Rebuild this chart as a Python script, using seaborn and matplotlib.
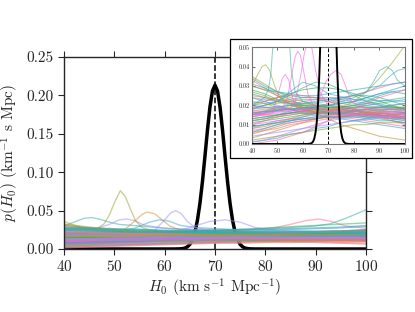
import matplotlib
matplotlib.use("Agg")
import matplotlib.pyplot as plt
from matplotlib.patches import Rectangle
from matplotlib.ticker import FormatStrFormatter
import seaborn as sns
import pandas as pd

# grid used by the smooth background posteriors
h0_grid = [40, 45, 50, 55, 60, 65, 70, 75, 80, 85, 90, 95, 100]

# combined posterior (black)
comb_h0 = [40, 60, 62, 63, 63.5, 64, 64.5, 65, 65.5, 66, 66.5, 67, 67.5, 68, 68.5, 69, 69.5, 70,
           70.5, 71, 71.5, 72, 72.5, 73, 73.5, 74, 74.5, 75, 75.5, 76, 76.5, 77, 78, 80, 100]
comb_p = [0.0, 0.0, 0.00002, 0.0002, 0.0005, 0.0012, 0.0028, 0.0060, 0.0118, 0.0217, 0.0370,
          0.0589, 0.0873, 0.1204, 0.1546, 0.1849, 0.2058, 0.2133, 0.2058, 0.1849, 0.1546, 0.1204,
          0.0873, 0.0589, 0.0370, 0.0217, 0.0118, 0.0060, 0.0028, 0.0012, 0.0005, 0.0002,
          0.00002, 0.0, 0.0]
true_h0 = 70

# individual event posteriors, main panel (values on h0_grid)
main_curves = [
    [0.012, 0.013, 0.014, 0.015, 0.016, 0.016, 0.017, 0.017, 0.018, 0.018, 0.018, 0.018, 0.017],
    [0.020, 0.019, 0.018, 0.018, 0.017, 0.017, 0.016, 0.016, 0.016, 0.015, 0.015, 0.014, 0.014],
    [0.008, 0.009, 0.010, 0.011, 0.012, 0.013, 0.013, 0.014, 0.014, 0.014, 0.015, 0.015, 0.015],
    [0.026, 0.025, 0.024, 0.022, 0.021, 0.020, 0.019, 0.018, 0.017, 0.016, 0.015, 0.014, 0.013],
    [0.005, 0.006, 0.008, 0.009, 0.011, 0.012, 0.013, 0.014, 0.015, 0.016, 0.017, 0.018, 0.019],
    [0.015, 0.016, 0.017, 0.018, 0.019, 0.020, 0.020, 0.021, 0.021, 0.022, 0.022, 0.022, 0.023],
    [0.010, 0.011, 0.012, 0.012, 0.013, 0.013, 0.013, 0.014, 0.014, 0.013, 0.013, 0.012, 0.012],
    [0.013, 0.014, 0.014, 0.015, 0.015, 0.016, 0.016, 0.016, 0.016, 0.016, 0.015, 0.015, 0.015],
    [0.030, 0.027, 0.024, 0.021, 0.018, 0.016, 0.014, 0.012, 0.011, 0.010, 0.009, 0.008, 0.007],
    [0.006, 0.007, 0.009, 0.010, 0.012, 0.013, 0.014, 0.015, 0.016, 0.017, 0.018, 0.019, 0.020],
    [0.018, 0.019, 0.019, 0.020, 0.020, 0.020, 0.021, 0.021, 0.021, 0.021, 0.022, 0.023, 0.025],
    [0.012, 0.012, 0.013, 0.013, 0.014, 0.014, 0.014, 0.015, 0.015, 0.015, 0.016, 0.016, 0.016],
    [0.022, 0.021, 0.020, 0.020, 0.019, 0.019, 0.018, 0.018, 0.018, 0.018, 0.019, 0.020, 0.021],
    [0.003, 0.004, 0.005, 0.006, 0.007, 0.008, 0.009, 0.010, 0.011, 0.012, 0.013, 0.014, 0.015],
    [0.016, 0.017, 0.018, 0.019, 0.019, 0.020, 0.020, 0.020, 0.020, 0.019, 0.019, 0.018, 0.018],
    [0.009, 0.010, 0.011, 0.012, 0.012, 0.013, 0.013, 0.014, 0.014, 0.014, 0.014, 0.014, 0.014],
    [0.017, 0.016, 0.016, 0.015, 0.015, 0.015, 0.015, 0.015, 0.016, 0.016, 0.017, 0.018, 0.019],
    [0.024, 0.023, 0.022, 0.021, 0.020, 0.019, 0.018, 0.018, 0.017, 0.017, 0.016, 0.016, 0.015],
    [0.004, 0.005, 0.006, 0.007, 0.008, 0.009, 0.009, 0.010, 0.010, 0.011, 0.011, 0.012, 0.012],
    [0.020, 0.021, 0.022, 0.022, 0.023, 0.023, 0.023, 0.022, 0.022, 0.021, 0.020, 0.019, 0.018],
    [0.014, 0.015, 0.016, 0.016, 0.017, 0.017, 0.018, 0.018, 0.019, 0.020, 0.021, 0.022, 0.024],
    [0.027, 0.026, 0.025, 0.025, 0.024, 0.024, 0.024, 0.025, 0.025, 0.026, 0.027, 0.028, 0.030],
    [0.006, 0.007, 0.007, 0.008, 0.009, 0.010, 0.011, 0.011, 0.012, 0.012, 0.013, 0.013, 0.014],
    [0.011, 0.012, 0.013, 0.014, 0.015, 0.015, 0.016, 0.016, 0.017, 0.017, 0.017, 0.017, 0.017],
    [0.008, 0.008, 0.009, 0.010, 0.011, 0.012, 0.013, 0.013, 0.014, 0.015, 0.016, 0.016, 0.017],
    [0.014, 0.014, 0.015, 0.015, 0.015, 0.016, 0.016, 0.016, 0.016, 0.016, 0.016, 0.016, 0.016],
    [0.032, 0.028, 0.025, 0.023, 0.021, 0.020, 0.019, 0.018, 0.017, 0.016, 0.015, 0.014, 0.013],
    [0.007, 0.008, 0.009, 0.010, 0.011, 0.011, 0.012, 0.012, 0.013, 0.013, 0.013, 0.013, 0.013],
    [0.010, 0.010, 0.011, 0.011, 0.012, 0.012, 0.012, 0.012, 0.012, 0.012, 0.012, 0.012, 0.011],
    [0.019, 0.018, 0.018, 0.017, 0.017, 0.017, 0.017, 0.017, 0.018, 0.018, 0.019, 0.020, 0.021],
    [0.023, 0.022, 0.021, 0.020, 0.019, 0.018, 0.017, 0.016, 0.015, 0.014, 0.013, 0.012, 0.011],
    [0.007, 0.008, 0.009, 0.010, 0.011, 0.012, 0.012, 0.013, 0.013, 0.013, 0.013, 0.013, 0.013],
    [0.021, 0.021, 0.020, 0.020, 0.019, 0.019, 0.019, 0.020, 0.020, 0.021, 0.022, 0.023, 0.024],
    [0.010, 0.011, 0.011, 0.012, 0.012, 0.013, 0.013, 0.013, 0.013, 0.012, 0.012, 0.011, 0.011],
    [0.013, 0.014, 0.015, 0.016, 0.016, 0.017, 0.017, 0.017, 0.017, 0.017, 0.017, 0.017, 0.016],
    [0.016, 0.016, 0.016, 0.017, 0.017, 0.017, 0.018, 0.018, 0.018, 0.019, 0.019, 0.020, 0.020],
    [0.028, 0.027, 0.026, 0.025, 0.023, 0.022, 0.021, 0.020, 0.019, 0.018, 0.018, 0.017, 0.017],
    [0.011, 0.012, 0.013, 0.013, 0.014, 0.015, 0.015, 0.016, 0.016, 0.017, 0.018, 0.019, 0.020],
    [0.018, 0.018, 0.017, 0.017, 0.016, 0.016, 0.016, 0.016, 0.016, 0.016, 0.016, 0.016, 0.016],
    [0.012, 0.012, 0.013, 0.013, 0.014, 0.014, 0.014, 0.015, 0.015, 0.015, 0.015, 0.015, 0.016],
    [0.002, 0.003, 0.004, 0.005, 0.006, 0.007, 0.008, 0.008, 0.009, 0.009, 0.010, 0.010, 0.010],
    [0.016, 0.017, 0.017, 0.018, 0.018, 0.018, 0.018, 0.018, 0.018, 0.018, 0.018, 0.018, 0.018],
    [0.009, 0.010, 0.010, 0.011, 0.011, 0.012, 0.012, 0.012, 0.012, 0.012, 0.012, 0.012, 0.012],
    [0.014, 0.014, 0.014, 0.014, 0.014, 0.015, 0.015, 0.015, 0.015, 0.016, 0.016, 0.016, 0.016],
    [0.025, 0.024, 0.023, 0.022, 0.022, 0.021, 0.021, 0.021, 0.021, 0.022, 0.022, 0.023, 0.024],
    [0.008, 0.009, 0.010, 0.011, 0.012, 0.013, 0.014, 0.014, 0.015, 0.015, 0.016, 0.016, 0.017],
    [0.013, 0.013, 0.014, 0.014, 0.015, 0.015, 0.015, 0.015, 0.015, 0.015, 0.015, 0.015, 0.015],
    [0.010, 0.011, 0.012, 0.012, 0.013, 0.013, 0.014, 0.014, 0.014, 0.014, 0.014, 0.014, 0.014],
]

# posteriors with a visible bump, main panel: (h0 values, p values, colour index)
main_bumps = [
    ([40, 42, 44, 45.5, 47, 49, 51, 53, 55, 60, 70, 80, 90, 100],
     [0.030, 0.035, 0.040, 0.041, 0.039, 0.035, 0.032, 0.031, 0.030, 0.027, 0.024, 0.022, 0.021, 0.020], 4),
    ([40, 46, 49, 51, 52.5, 54, 56, 60, 70, 80, 90, 100],
     [0.025, 0.026, 0.032, 0.038, 0.039, 0.037, 0.031, 0.027, 0.024, 0.022, 0.021, 0.020], 6),
    ([40, 42, 44, 46.5, 48, 49, 50, 51.2, 52.2, 53.2, 54.2, 55.5, 57, 60, 65, 70, 80, 90, 100],
     [0.036, 0.031, 0.027, 0.026, 0.033, 0.044, 0.060, 0.076, 0.068, 0.052, 0.037, 0.028, 0.025,
      0.022, 0.020, 0.019, 0.018, 0.017, 0.016], 2),
    ([40, 45, 50, 52, 54, 55.5, 56.5, 58, 59.5, 61, 63, 70, 80, 90, 100],
     [0.022, 0.021, 0.022, 0.025, 0.036, 0.045, 0.048, 0.046, 0.038, 0.030, 0.025, 0.022, 0.020, 0.019, 0.018], 1),
    ([40, 50, 54, 57, 59, 61, 63, 66, 75, 85, 100],
     [0.020, 0.022, 0.027, 0.035, 0.038, 0.036, 0.031, 0.028, 0.025, 0.024, 0.023], 5),
    ([40, 50, 55, 58, 60, 61.2, 62.2, 63.3, 64.5, 66, 68, 75, 85, 100],
     [0.018, 0.019, 0.020, 0.024, 0.038, 0.047, 0.050, 0.046, 0.036, 0.028, 0.026, 0.023, 0.021, 0.020], 6),
    ([40, 55, 63, 66, 69, 72, 75, 78, 82, 90, 100],
     [0.015, 0.018, 0.024, 0.030, 0.036, 0.038, 0.035, 0.028, 0.024, 0.022, 0.021], 6),
    ([40, 60, 75, 82, 85, 88, 90.6, 93, 96, 100],
     [0.016, 0.020, 0.024, 0.028, 0.032, 0.037, 0.039, 0.036, 0.030, 0.027], 0),
    ([40, 60, 80, 85, 90, 93, 96, 100],
     [0.020, 0.022, 0.026, 0.028, 0.030, 0.033, 0.040, 0.051], 4),
    ([40, 70, 85, 100],
     [0.018, 0.024, 0.029, 0.034], 3),
]

# inset panel posteriors (values on h0_grid)
inset_curves = [
    [0.010, 0.012, 0.014, 0.016, 0.017, 0.018, 0.018, 0.018, 0.017, 0.016, 0.015, 0.014, 0.013],
    [0.022, 0.021, 0.019, 0.018, 0.017, 0.016, 0.016, 0.015, 0.015, 0.014, 0.014, 0.013, 0.013],
    [0.005, 0.007, 0.009, 0.011, 0.012, 0.013, 0.014, 0.014, 0.015, 0.015, 0.016, 0.016, 0.016],
    [0.028, 0.026, 0.023, 0.021, 0.019, 0.018, 0.017, 0.016, 0.015, 0.014, 0.013, 0.012, 0.011],
    [0.015, 0.017, 0.019, 0.020, 0.020, 0.020, 0.019, 0.019, 0.020, 0.022, 0.025, 0.027, 0.026],
    [0.012, 0.013, 0.015, 0.017, 0.018, 0.019, 0.020, 0.021, 0.022, 0.024, 0.026, 0.028, 0.030],
    [0.008, 0.010, 0.012, 0.013, 0.014, 0.015, 0.016, 0.016, 0.016, 0.015, 0.014, 0.013, 0.012],
    [0.014, 0.015, 0.016, 0.016, 0.017, 0.017, 0.017, 0.016, 0.016, 0.015, 0.015, 0.014, 0.014],
    [0.033, 0.029, 0.025, 0.021, 0.018, 0.016, 0.015, 0.014, 0.013, 0.012, 0.011, 0.010, 0.009],
    [0.003, 0.005, 0.007, 0.009, 0.011, 0.013, 0.015, 0.016, 0.017, 0.018, 0.019, 0.020, 0.021],
    [0.019, 0.020, 0.021, 0.022, 0.023, 0.023, 0.022, 0.021, 0.020, 0.019, 0.018, 0.018, 0.017],
    [0.011, 0.012, 0.013, 0.014, 0.015, 0.016, 0.016, 0.017, 0.017, 0.017, 0.018, 0.018, 0.018],
    [0.026, 0.024, 0.022, 0.021, 0.021, 0.022, 0.023, 0.024, 0.025, 0.025, 0.024, 0.022, 0.020],
    [0.001, 0.002, 0.003, 0.005, 0.006, 0.008, 0.009, 0.011, 0.012, 0.013, 0.014, 0.015, 0.016],
    [0.018, 0.020, 0.022, 0.023, 0.024, 0.024, 0.023, 0.022, 0.021, 0.020, 0.019, 0.018, 0.017],
    [0.007, 0.008, 0.010, 0.011, 0.012, 0.013, 0.014, 0.014, 0.015, 0.015, 0.015, 0.015, 0.014],
    [0.016, 0.015, 0.015, 0.016, 0.017, 0.019, 0.021, 0.023, 0.025, 0.027, 0.029, 0.031, 0.032],
    [0.025, 0.024, 0.023, 0.022, 0.021, 0.020, 0.019, 0.018, 0.017, 0.016, 0.015, 0.014, 0.013],
    [0.002, 0.003, 0.004, 0.005, 0.006, 0.007, 0.008, 0.009, 0.010, 0.010, 0.011, 0.011, 0.011],
    [0.021, 0.022, 0.024, 0.026, 0.028, 0.029, 0.029, 0.028, 0.026, 0.024, 0.022, 0.020, 0.018],
    [0.013, 0.014, 0.015, 0.016, 0.017, 0.018, 0.019, 0.019, 0.020, 0.021, 0.022, 0.023, 0.024],
    [0.030, 0.028, 0.027, 0.026, 0.025, 0.025, 0.026, 0.027, 0.028, 0.029, 0.030, 0.031, 0.032],
    [0.004, 0.005, 0.006, 0.007, 0.008, 0.009, 0.010, 0.011, 0.012, 0.013, 0.013, 0.014, 0.014],
    [0.012, 0.013, 0.014, 0.015, 0.016, 0.016, 0.017, 0.017, 0.017, 0.017, 0.017, 0.016, 0.016],
    [0.006, 0.007, 0.008, 0.010, 0.011, 0.012, 0.013, 0.014, 0.015, 0.016, 0.016, 0.017, 0.017],
    [0.017, 0.018, 0.018, 0.018, 0.018, 0.018, 0.018, 0.017, 0.017, 0.016, 0.016, 0.015, 0.015],
    [0.035, 0.031, 0.027, 0.024, 0.022, 0.020, 0.019, 0.018, 0.017, 0.016, 0.015, 0.014, 0.013],
    [0.009, 0.010, 0.011, 0.012, 0.013, 0.013, 0.014, 0.014, 0.014, 0.014, 0.014, 0.013, 0.013],
    [0.034, 0.030, 0.027, 0.025, 0.024, 0.024, 0.024, 0.023, 0.022, 0.021, 0.020, 0.019, 0.018],
    [0.020, 0.019, 0.018, 0.018, 0.018, 0.019, 0.020, 0.021, 0.022, 0.024, 0.026, 0.027, 0.028],
    [0.024, 0.023, 0.022, 0.021, 0.020, 0.019, 0.018, 0.017, 0.016, 0.015, 0.014, 0.013, 0.012],
    [0.010, 0.011, 0.012, 0.013, 0.013, 0.014, 0.014, 0.015, 0.015, 0.015, 0.015, 0.015, 0.015],
    [0.000, 0.001, 0.002, 0.004, 0.006, 0.009, 0.012, 0.015, 0.018, 0.021, 0.024, 0.026, 0.028],
    [0.030, 0.028, 0.025, 0.022, 0.019, 0.016, 0.013, 0.010, 0.008, 0.006, 0.004, 0.003, 0.002],
    [0.016, 0.017, 0.018, 0.019, 0.020, 0.020, 0.020, 0.019, 0.018, 0.017, 0.016, 0.015, 0.014],
    [0.013, 0.014, 0.015, 0.016, 0.016, 0.016, 0.016, 0.016, 0.016, 0.015, 0.015, 0.014, 0.014],
    [0.006, 0.008, 0.010, 0.012, 0.014, 0.016, 0.017, 0.018, 0.019, 0.020, 0.021, 0.022, 0.023],
    [0.024, 0.022, 0.020, 0.018, 0.016, 0.015, 0.014, 0.013, 0.012, 0.011, 0.010, 0.009, 0.008],
    [0.014, 0.016, 0.018, 0.020, 0.022, 0.023, 0.024, 0.024, 0.023, 0.022, 0.020, 0.018, 0.016],
    [0.017, 0.017, 0.017, 0.017, 0.017, 0.017, 0.017, 0.017, 0.017, 0.016, 0.016, 0.016, 0.016],
    [0.020, 0.022, 0.024, 0.025, 0.025, 0.024, 0.022, 0.020, 0.018, 0.016, 0.014, 0.012, 0.010],
    [0.008, 0.009, 0.011, 0.013, 0.015, 0.016, 0.017, 0.018, 0.019, 0.019, 0.019, 0.019, 0.019],
    [0.027, 0.025, 0.022, 0.020, 0.018, 0.017, 0.016, 0.016, 0.016, 0.016, 0.017, 0.018, 0.019],
    [0.015, 0.016, 0.017, 0.018, 0.019, 0.019, 0.019, 0.019, 0.018, 0.018, 0.017, 0.017, 0.016],
    [0.031, 0.029, 0.026, 0.023, 0.020, 0.018, 0.016, 0.015, 0.014, 0.013, 0.012, 0.012, 0.011],
    [0.009, 0.010, 0.011, 0.012, 0.013, 0.014, 0.015, 0.016, 0.017, 0.018, 0.019, 0.020, 0.021],
    [0.001, 0.002, 0.004, 0.006, 0.008, 0.010, 0.012, 0.013, 0.014, 0.014, 0.014, 0.014, 0.013],
    [0.019, 0.019, 0.019, 0.018, 0.018, 0.018, 0.018, 0.018, 0.018, 0.018, 0.018, 0.018, 0.018],
]

inset_bumps = [
    ([40, 42, 44, 45.5, 47, 49, 51, 54, 60, 70, 80, 90, 100],
     [0.030, 0.035, 0.040, 0.041, 0.038, 0.030, 0.024, 0.021, 0.019, 0.018, 0.017, 0.016, 0.015], 2),
    ([40, 45, 46.5, 47.5, 48.5, 50, 51.5, 53, 54.5, 55.5, 57, 60, 70, 80, 90, 100],
     [0.020, 0.024, 0.028, 0.036, 0.055, 0.085, 0.095, 0.085, 0.058, 0.038, 0.027, 0.022, 0.020,
      0.019, 0.019, 0.019], 4),
    ([40, 48, 50, 52, 53.2, 54.5, 56, 58, 65, 80, 100],
     [0.014, 0.016, 0.024, 0.034, 0.036, 0.033, 0.024, 0.018, 0.016, 0.015, 0.014], 7),
    ([40, 52, 54, 56, 57, 58, 59, 60, 62, 64, 70, 85, 100],
     [0.015, 0.018, 0.024, 0.038, 0.045, 0.048, 0.046, 0.040, 0.026, 0.020, 0.017, 0.015, 0.014], 7),
    ([40, 55, 57, 59, 60.5, 62, 63.5, 65, 67, 70, 80, 100],
     [0.016, 0.018, 0.022, 0.034, 0.046, 0.054, 0.050, 0.038, 0.026, 0.020, 0.017, 0.015], 7),
    ([40, 50, 55, 60, 65, 70, 80, 100],
     [0.020, 0.022, 0.027, 0.032, 0.030, 0.026, 0.023, 0.022], 5),
    ([40, 50, 60, 65, 70, 75, 85, 100],
     [0.018, 0.022, 0.029, 0.032, 0.031, 0.028, 0.022, 0.018], 3),
    ([40, 60, 65, 67, 69, 71, 73, 75, 77, 79, 85, 100],
     [0.015, 0.018, 0.020, 0.025, 0.032, 0.036, 0.038, 0.036, 0.029, 0.022, 0.018, 0.016], 7),
    ([40, 60, 75, 80, 85, 90, 95, 100],
     [0.012, 0.016, 0.019, 0.022, 0.027, 0.034, 0.042, 0.051], 2),
    ([40, 70, 80, 85, 88, 90, 92.8, 95, 97, 100],
     [0.016, 0.020, 0.024, 0.027, 0.033, 0.038, 0.040, 0.038, 0.033, 0.030], 4),
    ([40, 70, 85, 90, 94, 97, 100],
     [0.018, 0.022, 0.027, 0.030, 0.035, 0.038, 0.039], 5),
]


def grid_frame(curves, colors):
    rows = []
    pal = {}
    for i, vals in enumerate(curves):
        name = "c%02d" % i
        pal[name] = colors[i % len(colors)]
        for h, p in zip(h0_grid, vals):
            rows.append((h, p, name))
    return pd.DataFrame(rows, columns=["H0", "p", "curve"]), pal


def bump_frame(bumps, colors):
    rows = []
    pal = {}
    for j, (hs, ps, ci) in enumerate(bumps):
        name = "b%02d" % j
        pal[name] = colors[ci]
        for h, p in zip(hs, ps):
            rows.append((h, p, name))
    return pd.DataFrame(rows, columns=["H0", "p", "curve"]), pal


sns.set_style("ticks")
plt.rcParams["font.family"] = "serif"
plt.rcParams["font.serif"] = ["cmr10"]
plt.rcParams["mathtext.fontset"] = "cm"
plt.rcParams["axes.formatter.use_mathtext"] = True

colors = sns.color_palette("husl", 8)

fig = plt.figure(figsize=(4.15, 3.12), dpi=100)
ax = fig.add_axes([0.1542, 0.2019, 0.7277, 0.6154])

ax.plot(comb_h0, comb_p, color="black", lw=2.5, zorder=1.5)
ax.axvline(true_h0, color="black", ls="--", lw=1.1, zorder=1.4)

df_b, pal_b = bump_frame(main_bumps, colors)
sns.lineplot(data=df_b, x="H0", y="p", hue="curve", palette=pal_b,
             estimator=None, legend=False, lw=1.0, alpha=0.5, ax=ax, zorder=2)
df_main, pal_main = grid_frame(main_curves, colors)
sns.lineplot(data=df_main, x="H0", y="p", hue="curve", palette=pal_main,
             estimator=None, legend=False, lw=1.5, alpha=0.65, ax=ax, zorder=2)

ax.set_xlim(40, 100)
ax.set_ylim(0, 0.25)
ax.set_xticks([40, 50, 60, 70, 80, 90, 100])
ax.set_yticks([0.0, 0.05, 0.10, 0.15, 0.20, 0.25])
ax.yaxis.set_major_formatter(FormatStrFormatter("%.2f"))
ax.tick_params(labelsize=11, top=True, right=True, length=4, direction="out")
ax.set_xlabel(r"$H_0$ (km s$^{-1}$ Mpc$^{-1}$)", fontsize=11, labelpad=2)
ax.set_ylabel(r"$p(H_0)$ (km$^{-1}$ s Mpc)", fontsize=11, labelpad=4)
for s in ax.spines.values():
    s.set_color("0.15")
    s.set_linewidth(1.0)

# white frame behind the inset
frame = Rectangle((0.5542, 0.4936), 0.4386, 0.3814, transform=fig.transFigure,
                  facecolor="white", edgecolor="black", lw=0.9, zorder=2)
fig.add_artist(frame)

axin = fig.add_axes([0.6065, 0.5385, 0.3694, 0.3099])
axin.set_zorder(3)
df_in, pal_in = grid_frame(inset_curves, colors)
sns.lineplot(data=df_in, x="H0", y="p", hue="curve", palette=pal_in,
             estimator=None, legend=False, lw=0.8, alpha=0.6, ax=axin, zorder=2)
df_ib, pal_ib = bump_frame(inset_bumps, colors)
sns.lineplot(data=df_ib, x="H0", y="p", hue="curve", palette=pal_ib,
             estimator=None, legend=False, lw=0.7, alpha=0.6, ax=axin, zorder=2)
axin.plot(comb_h0, comb_p, color="black", lw=1.4, zorder=3)
axin.axvline(true_h0, color="black", ls="--", lw=0.7, dashes=(3, 2), zorder=3)
axin.set_xlim(40, 100)
axin.set_ylim(0, 0.05)
axin.set_xticks([40, 50, 60, 70, 80, 90, 100])
axin.set_yticks([0.0, 0.01, 0.02, 0.03, 0.04, 0.05])
axin.yaxis.set_major_formatter(FormatStrFormatter("%.2f"))
axin.tick_params(labelsize=4.5, top=True, right=True, length=2, width=0.5,
                 direction="in", pad=1.5)
axin.set_xlabel("")
axin.set_ylabel("")
for s in axin.spines.values():
    s.set_color("0.45")
    s.set_linewidth(0.8)

fig.savefig("out.png", dpi=100)
